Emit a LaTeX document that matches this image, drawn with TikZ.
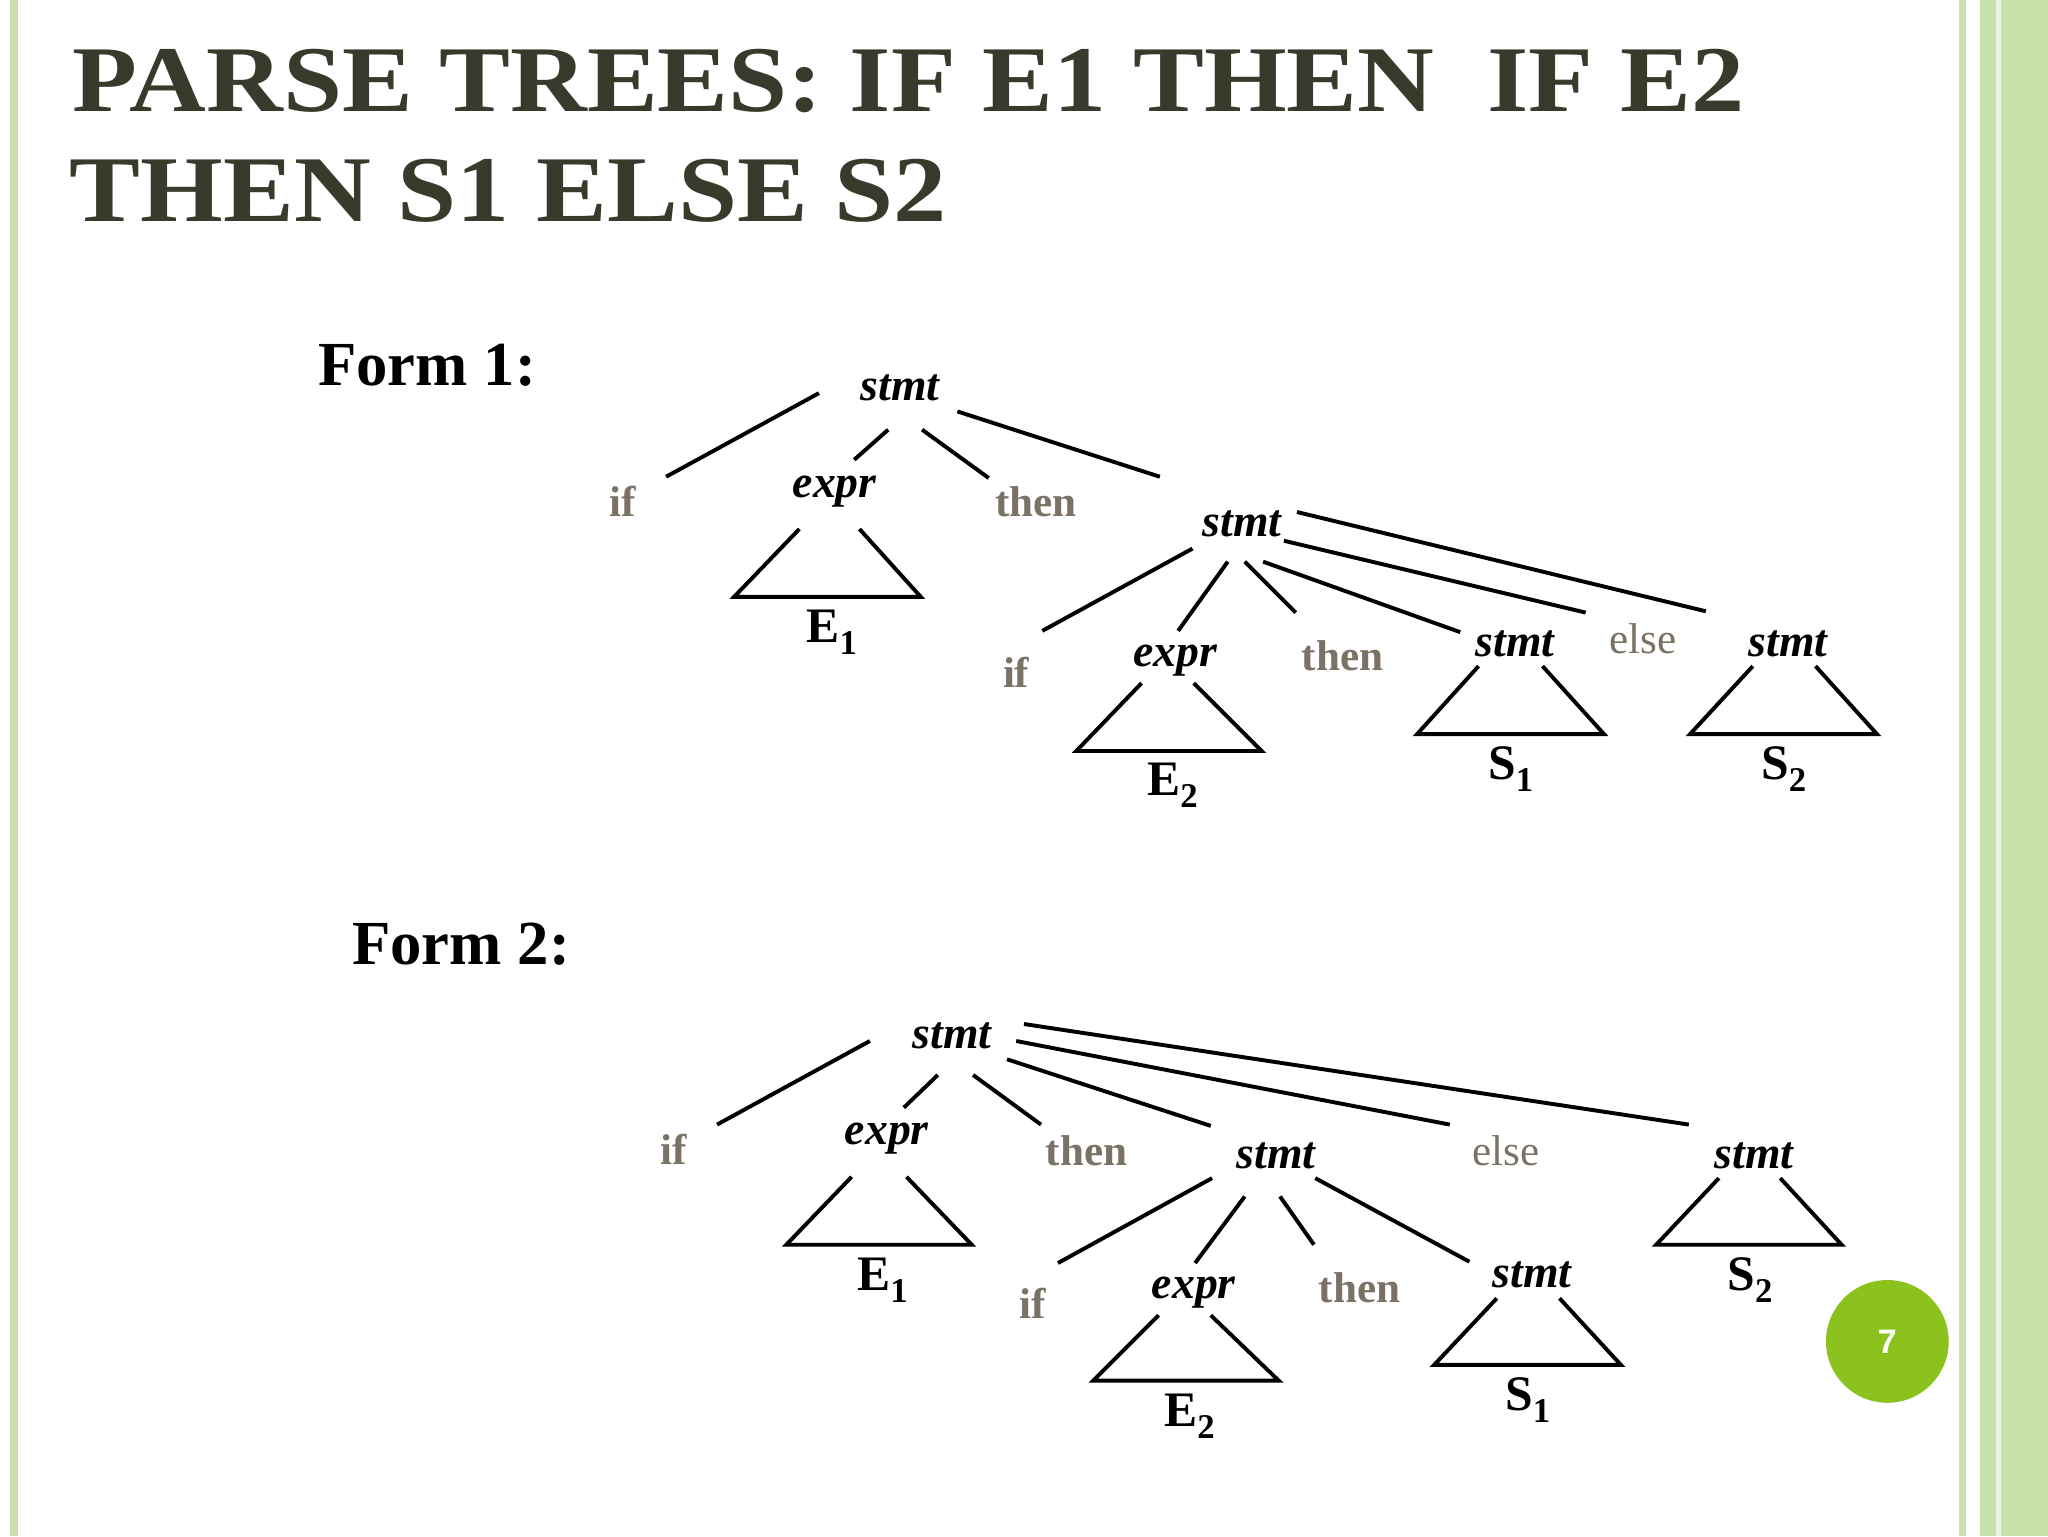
\documentclass[tikz,border=0pt]{standalone}
\usepackage{fontspec}
\usepackage{graphicx}
\setmainfont{Liberation Serif}
\setsansfont{Liberation Sans}
\definecolor{ttl}{HTML}{3A3A2C}
\definecolor{gr}{HTML}{7A7265}
\definecolor{lg}{HTML}{C8E0AA}
\definecolor{dg}{HTML}{8CC21E}
\tikzset{
 nt/.style={font=\fontsize{35}{37}\selectfont\bfseries\itshape},
 kw/.style={font=\fontsize{33}{35}\selectfont\bfseries, text=gr},
 kwr/.style={font=\fontsize{33}{35}\selectfont, text=gr},
 lf/.style={font=\fontsize{38}{40}\selectfont\bfseries},
 fm/.style={font=\fontsize{48}{50}\selectfont\bfseries},
 ln/.style={line width=3pt},
 tt/.style={font=\fontsize{72}{74}\selectfont\bfseries, text=ttl, anchor=west}
}
\begin{document}
\begin{tikzpicture}[x=1pt,y=-1pt]
\useasboundingbox (0,0) rectangle (1568,1176);
\fill[white] (0,0) rectangle (1568,1176);
\fill[lg] (8,0) rectangle (14,1176);
\fill[lg] (1500,0) rectangle (1505,1176);
\fill[lg] (1516,0) rectangle (1568,1176);
\fill[white!60!lg] (1528,0) rectangle (1532,1176);
\node[tt] (t1) at (52,62) {\scalebox{1.13}[1]{PARSE TREES: IF E1 THEN \ IF E2}};
\node[tt] (t2) at (50,146) {\scalebox{1.13}[1]{THEN S1 ELSE S2}};
\node[fm] (f1) at (327,280) {Form 1:};
\node[fm] (f2) at (353,723) {Form 2:};
% Form 1
\node[nt] (a) at (689,297) {stmt};
\draw[ln] (627,301)--(510,365) (680,329)--(654,352) (706,329)--(757,366) (733,315)--(888,365);
\node[kw] (aif) at (477,384) {if};
\node[nt] (ae) at (639,376) {expr};
\draw[ln] (612,405)--(562,457)--(705,457)--(658,405);
\node[lf] (aE) at (637,484) {E\textsubscript{1}};
\node[kw] (ath) at (793,384) {then};
\node[nt] (b) at (951,401) {stmt};
\draw[ln] (913,420)--(798,483) (940,430)--(902,483) (953,430)--(992,469) (967,430)--(1118,484) (983,414)--(1214,469) (993,392)--(1306,468);
\node[kw] (bif) at (778,515) {if};
\node[nt] (be) at (900,506) {expr};
\draw[ln] (874,523)--(824,575)--(966,575)--(914,523);
\node[lf] (bE) at (898,601) {E\textsubscript{2}};
\node[kw] (bth) at (1028,502) {then};
\node[nt] (bs1) at (1160,493) {stmt};
\draw[ln] (1132,510)--(1085,562)--(1228,562)--(1181,510);
\node[lf] (bS1) at (1157,589) {S\textsubscript{1}};
\node[kwr] (bel) at (1258,489) {else};
\node[nt] (bs2) at (1369,493) {stmt};
\draw[ln] (1342,510)--(1294,562)--(1437,562)--(1390,510);
\node[lf] (bS2) at (1366,589) {S\textsubscript{2}};
% Form 2
\node[nt] (c) at (729,793) {stmt};
\draw[ln] (666,797)--(549,861) (718,823)--(692,848) (745,823)--(797,861) (771,811)--(927,862) (778,797)--(1110,861) (784,784)--(1293,861);
\node[kw] (cif) at (516,880) {if};
\node[nt] (ce) at (679,872) {expr};
\draw[ln] (652,901)--(602,953)--(744,953)--(694,901);
\node[lf] (cE) at (676,980) {E\textsubscript{1}};
\node[kw] (cth) at (832,881) {then};
\node[nt] (d) at (977,885) {stmt};
\draw[ln] (928,902)--(810,967) (953,916)--(915,967) (980,916)--(1006,953) (1007,902)--(1125,966);
\node[kwr] (cel) at (1153,881) {else};
\node[nt] (cs2) at (1343,885) {stmt};
\draw[ln] (1316,902)--(1268,953)--(1410,953)--(1363,902);
\node[lf] (cS2) at (1340,980) {S\textsubscript{2}};
\node[kw] (dif) at (791,998) {if};
\node[nt] (de) at (914,990) {expr};
\draw[ln] (887,1007)--(837,1057)--(979,1057)--(927,1007);
\node[lf] (dE) at (911,1084) {E\textsubscript{2}};
\node[kw] (dth) at (1041,986) {then};
\node[nt] (ds1) at (1173,976) {stmt};
\draw[ln] (1146,994)--(1098,1045)--(1241,1045)--(1194,994);
\node[lf] (dS1) at (1170,1072) {S\textsubscript{1}};
% page number
\fill[dg] (1445,1027) circle (47);
\node[font=\sffamily\bfseries\fontsize{26}{28}\selectfont, text=white] (pn) at (1445,1027) {7};
\end{tikzpicture}
\end{document}
